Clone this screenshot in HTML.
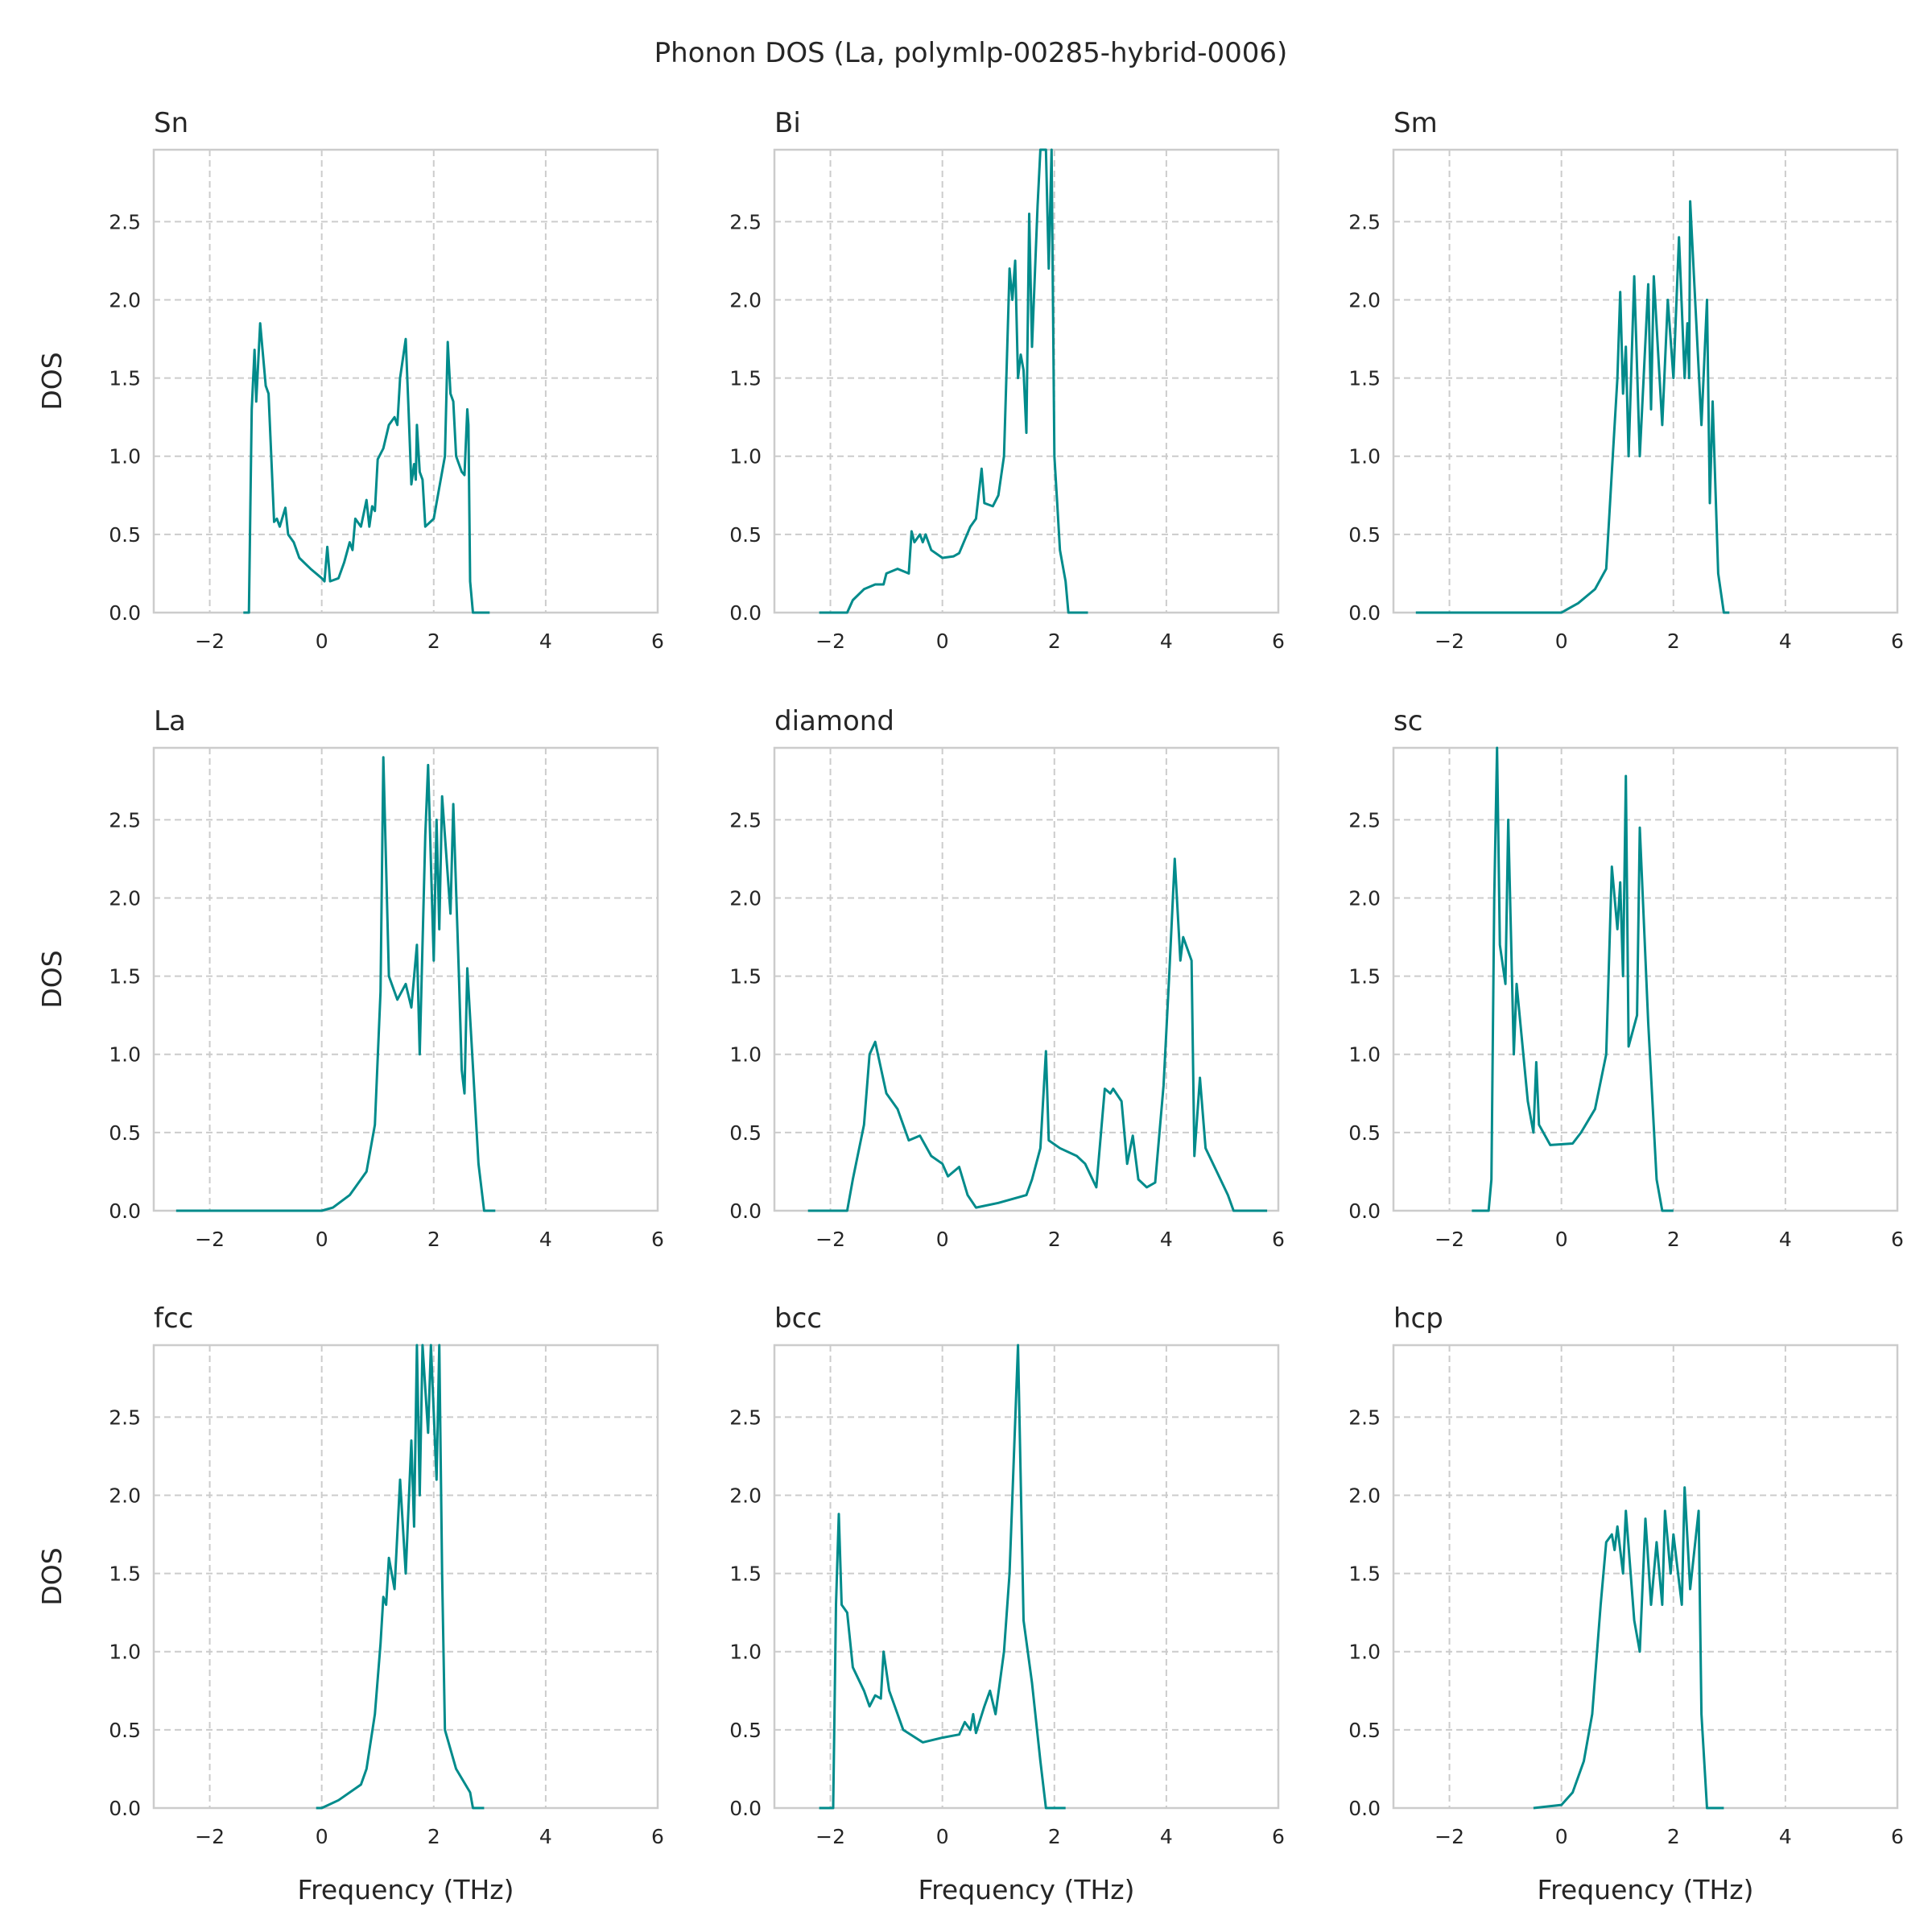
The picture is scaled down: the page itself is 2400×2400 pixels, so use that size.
<!DOCTYPE html>
<html><head><meta charset="utf-8"><style>
html,body{margin:0;padding:0;background:#fff}
svg{display:block}
text{font-family:"DejaVu Sans","Liberation Sans",sans-serif;fill:#262626}
</style></head><body>
<svg id="chart" xmlns="http://www.w3.org/2000/svg" width="2400" height="2400" viewBox="0 0 2400 2400">
<text x="1206" y="77" font-size="34" text-anchor="middle">Phonon DOS (La, polymlp-00285-hybrid-0006)</text>
</svg>
<script>
const panelNames = ["Sn","Bi","Sm","La","diamond","sc","fcc","bcc","hcp"];
const xTicks = [-2,0,2,4,6];
const yTicks = [0.0,0.5,1.0,1.5,2.0,2.5];
const yTickLabels = ["0.0","0.5","1.0","1.5","2.0","2.5"];
const freqSn = [-1.4,-1.3,-1.25,-1.2,-1.17,-1.1,-1.0,-0.95,-0.85,-0.8,-0.75,-0.65,-0.6,-0.5,-0.4,-0.2,0,0.05,0.1,0.15,0.3,0.4,0.5,0.55,0.6,0.7,0.8,0.85,0.9,0.95,1.0,1.1,1.2,1.3,1.35,1.4,1.5,1.55,1.6,1.65,1.68,1.7,1.75,1.8,1.85,2.0,2.1,2.2,2.25,2.3,2.35,2.4,2.5,2.55,2.6,2.62,2.65,2.7,3.0];
const dosSn = [0,0,1.3,1.68,1.35,1.85,1.45,1.4,0.58,0.6,0.55,0.67,0.5,0.45,0.35,0.28,0.22,0.2,0.42,0.2,0.22,0.32,0.45,0.4,0.6,0.55,0.72,0.55,0.68,0.65,0.98,1.05,1.2,1.25,1.2,1.5,1.75,1.3,0.82,0.95,0.85,1.2,0.9,0.85,0.55,0.6,0.8,1.0,1.73,1.4,1.35,1.0,0.9,0.88,1.3,1.2,0.2,0,0];
const freqBi = [-2.2,-1.7,-1.6,-1.4,-1.2,-1.05,-1.0,-0.8,-0.6,-0.55,-0.5,-0.4,-0.35,-0.3,-0.2,0,0.2,0.3,0.5,0.6,0.7,0.75,0.9,1.0,1.1,1.15,1.2,1.25,1.3,1.35,1.4,1.45,1.5,1.55,1.6,1.7,1.75,1.85,1.9,1.95,2.0,2.05,2.1,2.2,2.25,2.6];
const dosBi = [0,0,0.08,0.15,0.18,0.18,0.25,0.28,0.25,0.52,0.45,0.5,0.45,0.5,0.4,0.35,0.36,0.38,0.55,0.6,0.92,0.7,0.68,0.75,1.0,1.6,2.2,2.0,2.25,1.5,1.65,1.55,1.15,2.55,1.7,2.6,2.96,2.96,2.2,2.96,1.0,0.7,0.4,0.2,0,0];
const freqSm = [-2.6,0,0.1,0.3,0.6,0.8,0.9,1.0,1.05,1.1,1.15,1.2,1.3,1.4,1.55,1.6,1.65,1.8,1.9,2.0,2.1,2.2,2.25,2.28,2.3,2.5,2.6,2.65,2.7,2.8,2.9,3.0];
const dosSm = [0,0,0.02,0.06,0.15,0.28,0.9,1.5,2.05,1.4,1.7,1.0,2.15,1.0,2.1,1.3,2.15,1.2,2.0,1.5,2.4,1.5,1.85,1.5,2.63,1.2,2.0,0.7,1.35,0.25,0,0];
const freqLa = [-2.6,0,0.2,0.5,0.8,0.95,1.05,1.1,1.2,1.35,1.5,1.6,1.7,1.75,1.85,1.9,2.0,2.05,2.1,2.15,2.3,2.35,2.45,2.5,2.55,2.6,2.8,2.9,3.1];
const dosLa = [0,0,0.02,0.1,0.25,0.55,1.4,2.9,1.5,1.35,1.45,1.3,1.7,1.0,2.4,2.85,1.6,2.5,1.8,2.65,1.9,2.6,1.5,0.9,0.75,1.55,0.3,0,0];
const freqDiamond = [-2.4,-1.7,-1.6,-1.4,-1.3,-1.2,-1.0,-0.8,-0.6,-0.4,-0.2,0,0.1,0.3,0.45,0.6,1.0,1.5,1.6,1.75,1.85,1.9,2.1,2.4,2.55,2.75,2.9,3.0,3.05,3.2,3.3,3.4,3.5,3.65,3.8,3.95,4.05,4.15,4.25,4.3,4.45,4.5,4.6,4.7,4.9,5.1,5.2,5.8];
const dosDiamond = [0,0,0.2,0.55,1.0,1.08,0.75,0.65,0.45,0.48,0.35,0.3,0.22,0.28,0.1,0.02,0.05,0.1,0.2,0.4,1.02,0.45,0.4,0.35,0.3,0.15,0.78,0.75,0.78,0.7,0.3,0.48,0.2,0.15,0.18,0.8,1.5,2.25,1.6,1.75,1.6,0.35,0.85,0.4,0.25,0.1,0,0];
const freqSc = [-1.6,-1.3,-1.25,-1.2,-1.15,-1.1,-1.0,-0.95,-0.85,-0.8,-0.6,-0.5,-0.45,-0.4,-0.2,0.2,0.35,0.6,0.8,0.9,1.0,1.05,1.1,1.15,1.2,1.35,1.4,1.55,1.7,1.8,2.0];
const dosSc = [0,0,0.2,2.0,2.96,1.7,1.45,2.5,1.0,1.45,0.7,0.5,0.95,0.55,0.42,0.43,0.5,0.65,1.0,2.2,1.8,2.1,1.5,2.78,1.05,1.25,2.45,1.2,0.2,0,0];
const freqFcc = [-0.1,0,0.3,0.7,0.8,0.95,1.05,1.1,1.15,1.2,1.3,1.4,1.5,1.6,1.65,1.7,1.75,1.8,1.9,1.95,2.05,2.1,2.15,2.2,2.4,2.65,2.7,2.9];
const dosFcc = [0,0,0.05,0.15,0.25,0.6,1.05,1.35,1.3,1.6,1.4,2.1,1.5,2.35,1.8,2.96,2.0,2.96,2.4,2.96,2.1,2.96,1.5,0.5,0.25,0.1,0,0];
const freqBcc = [-2.2,-1.95,-1.9,-1.85,-1.8,-1.7,-1.6,-1.4,-1.3,-1.2,-1.1,-1.05,-0.95,-0.7,-0.35,0,0.3,0.4,0.5,0.55,0.6,0.75,0.85,0.95,1.1,1.2,1.35,1.45,1.6,1.75,1.85,2.2];
const dosBcc = [0,0,1.3,1.88,1.3,1.25,0.9,0.75,0.65,0.72,0.7,1.0,0.75,0.5,0.42,0.45,0.47,0.55,0.5,0.6,0.48,0.65,0.75,0.6,1.0,1.5,2.96,1.2,0.8,0.3,0,0];
const freqHcp = [-0.5,0,0.2,0.4,0.55,0.7,0.8,0.9,0.95,1.0,1.1,1.15,1.3,1.4,1.5,1.6,1.7,1.8,1.85,1.95,2.0,2.15,2.2,2.3,2.45,2.5,2.6,2.9];
const dosHcp = [0,0.02,0.1,0.3,0.6,1.3,1.7,1.75,1.65,1.8,1.5,1.9,1.2,1.0,1.85,1.3,1.7,1.3,1.9,1.5,1.75,1.3,2.05,1.4,1.9,0.6,0,0];
const freqs = [freqSn,freqBi,freqSm,freqLa,freqDiamond,freqSc,freqFcc,freqBcc,freqHcp];
const doses = [dosSn,dosBi,dosSm,dosLa,dosDiamond,dosSc,dosFcc,dosBcc,dosHcp];

const NS="http://www.w3.org/2000/svg";
const svg=document.getElementById('chart');
const colL=[191,962,1731], rowT=[186,929,1671], W=626, H=575;
const XMIN=-3,XMAX=6,YMIN=0,YMAX=2.96;
function mk(tag,attrs,parent){const e=document.createElementNS(NS,tag);for(const k in attrs)e.setAttribute(k,attrs[k]);(parent||svg).appendChild(e);return e;}
for(let i=0;i<9;i++){
  const c=i%3,r=Math.floor(i/3),L=colL[c],T=rowT[r];
  const sx=v=>L+(v-XMIN)/(XMAX-XMIN)*W;
  const sy=v=>T+H-(v-YMIN)/(YMAX-YMIN)*H;
  const g=mk('g',{});
  
  
  xTicks.forEach(t=>{
    const x=sx(t);
    if(t<XMAX){const gl=mk('line',{x1:x,x2:x,y1:T,y2:T+H,stroke:'#cccccc','stroke-width':2,'stroke-dasharray':'8,5'},g);
    }
    const tl=mk('text',{x:x,y:T+H+44,'font-size':25,'text-anchor':'middle'},g);
    
    tl.textContent=(t<0?'\u2212'+(-t):String(t));
  });
  yTicks.forEach((t,j)=>{
    const y=sy(t);
    if(t>0){const gl=mk('line',{x1:L,x2:L+W,y1:y,y2:y,stroke:'#cccccc','stroke-width':2,'stroke-dasharray':'8,5'},g);
    }
    const tl=mk('text',{x:L-16,y:y+9,'font-size':25,'text-anchor':'end'},g);
    
    tl.textContent=yTickLabels[j];
  });
  const fr=mk('rect',{x:L,y:T,width:W,height:H,fill:'none',stroke:'#cccccc','stroke-width':2.5},g);
  
  const pts=freqs[i].map((f,k)=>sx(f).toFixed(1)+','+sy(Math.min(doses[i][k],YMAX)).toFixed(1)).join(' ');
  const pl=mk('polyline',{points:pts,fill:'none',stroke:'#008b8b','stroke-width':3,'stroke-linejoin':'round'},g);
  
  const tt=mk('text',{x:L,y:T-22,'font-size':34},g);
  
  tt.textContent=panelNames[i];
  if(c===0){const yl=mk('text',{x:0,y:0,'font-size':33,'text-anchor':'middle',transform:'translate(76,'+(T+H/2)+') rotate(-90)'},g);
    yl.textContent='DOS';}
  if(r===2){const xl=mk('text',{x:L+W/2,y:2359,'font-size':33,'text-anchor':'middle'},g);
    xl.textContent='Frequency (THz)';}
}
</script>
</body></html>
